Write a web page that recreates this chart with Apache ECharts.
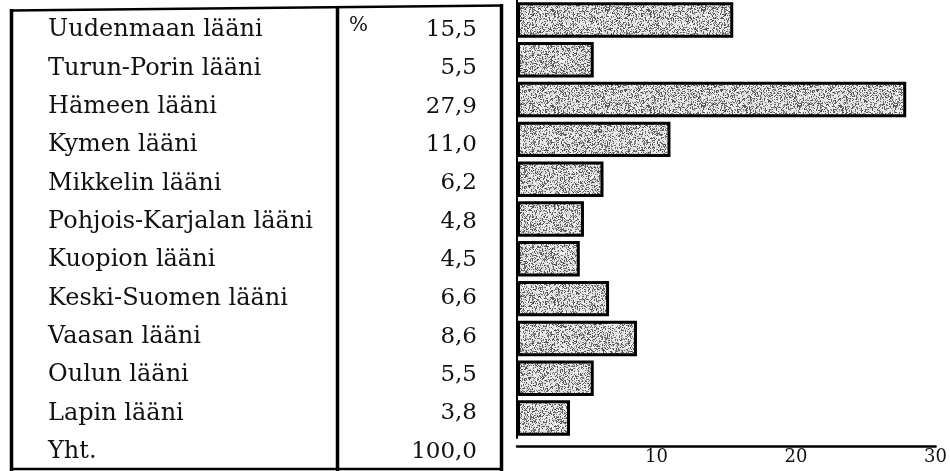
<!DOCTYPE html>
<html><head><meta charset="utf-8">
<script src="https://cdn.jsdelivr.net/npm/echarts@6/dist/echarts.min.js"></script>
<style>html,body{margin:0;padding:0;background:#fff}#c{width:950px;height:471px}</style>
</head><body><div id="c"></div>
<script>
// ---- data ----
const regions = ['Uudenmaan lääni','Turun-Porin lääni','Hämeen lääni','Kymen lääni','Mikkelin lääni','Pohjois-Karjalan lääni','Kuopion lääni','Keski-Suomen lääni','Vaasan lääni','Oulun lääni','Lapin lääni'];
const shares = [15.5, 5.5, 27.9, 11.0, 6.2, 4.8, 4.5, 6.6, 8.6, 5.5, 3.8];
const totalLabel = 'Yht.';
const totalValue = 100.0;
const unitLabel = '%';
const axisMin = 0, axisMax = 30, axisStep = 10;

// ---- derived ----
const tableRows = regions.concat([totalLabel]);
const tableValues = shares.concat([totalValue]);
const fmt = v => v.toFixed(1).replace('.', ',');

// stipple texture (style only)
function stipple() {
  const n = 96, c = document.createElement('canvas');
  c.width = n; c.height = n;
  const ctx = c.getContext('2d');
  const img = ctx.createImageData(n, n);
  let s = 20231;
  for (let i = 0; i < n * n; i++) {
    s = (s * 1103515245 + 12345) & 0x7fffffff;
    const t = (s >>> 8) % 1000 / 1000;
    const g = t < 0.33 ? 70 + Math.floor(t * 200) : 205 + Math.floor((t - 0.33) * 70);
    img.data[i*4] = g; img.data[i*4+1] = g; img.data[i*4+2] = g; img.data[i*4+3] = 255;
  }
  ctx.putImageData(img, 0, 0);
  return c;
}

const serif = 'DejaVu Serif';
const chart = echarts.init(document.getElementById('c'), null, {renderer: 'canvas'});
chart.setOption({
  animation: false,
  backgroundColor: '#fff',
  grid: [
    {left: 517, top: 0, width: 419, height: 438},
    {left: 48, top: 10.8, width: 429, height: 461.4}
  ],
  xAxis: [
    {gridIndex: 0, type: 'value', min: axisMin, max: axisMax, interval: axisStep, offset: 8,
     axisLine: {show: true, lineStyle: {color: '#000', width: 2.5}},
     axisTick: {show: false}, splitLine: {show: false},
     axisLabel: {showMinLabel: false, margin: 2, fontFamily: serif, fontSize: 18, color: '#111'}},
    {gridIndex: 1, type: 'value', show: false}
  ],
  yAxis: [
    {gridIndex: 0, type: 'category', inverse: true, data: regions,
     axisLine: {show: true, lineStyle: {color: '#000', width: 2}},
     axisTick: {show: false}, axisLabel: {show: false}, splitLine: {show: false}},
    {gridIndex: 1, type: 'category', inverse: true, data: tableRows, position: 'left',
     axisLine: {show: false}, axisTick: {show: false}, splitLine: {show: false},
     axisLabel: {inside: true, margin: 0, fontFamily: serif, fontSize: 24, color: '#111'}},
    {gridIndex: 1, type: 'category', inverse: true, data: tableRows, position: 'right',
     axisLine: {show: false}, axisTick: {show: false}, splitLine: {show: false},
     axisLabel: {inside: true, margin: 0, fontFamily: serif, fontSize: 23, color: '#111',
                 formatter: (val, idx) => fmt(tableValues[idx])}}
  ],
  series: [{
    type: 'bar', xAxisIndex: 0, yAxisIndex: 0, data: shares,
    barCategoryGap: '11%',
    itemStyle: {color: {image: stipple(), repeat: 'repeat'}, borderColor: '#000', borderWidth: 3}
  }],
  graphic: [
    {type: 'line', shape: {x1: 10, y1: 10.5, x2: 503, y2: 5.5}, style: {stroke: '#000', lineWidth: 2.5}},
    {type: 'line', shape: {x1: 11.5, y1: 9, x2: 11.5, y2: 471}, style: {stroke: '#000', lineWidth: 3.5}},
    {type: 'line', shape: {x1: 337.5, y1: 7, x2: 337.5, y2: 471}, style: {stroke: '#000', lineWidth: 3.5}},
    {type: 'line', shape: {x1: 501.5, y1: 4, x2: 501.5, y2: 471}, style: {stroke: '#000', lineWidth: 3.5}},
    {type: 'line', shape: {x1: 10, y1: 469, x2: 503, y2: 469}, style: {stroke: '#000', lineWidth: 2.5}},
    {type: 'text', left: 349, top: 16, style: {text: unitLabel, font: '20px "DejaVu Serif"', fill: '#111'}}
  ]
});
</script></body></html>
